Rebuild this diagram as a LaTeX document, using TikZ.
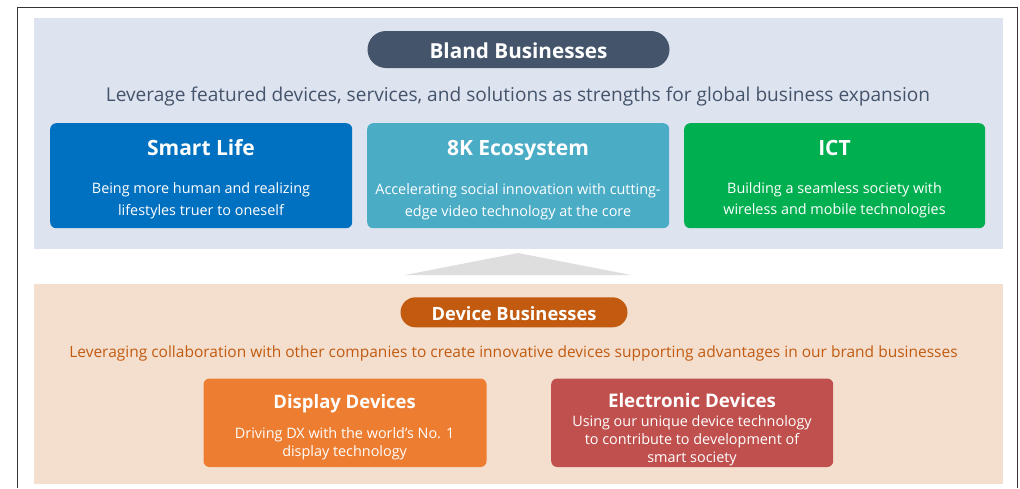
\documentclass[tikz,border=0pt]{standalone}
\usepackage{fontspec}
\setmainfont{Open Sans}
\definecolor{panelblue}{HTML}{DEE3F0}
\definecolor{slate}{HTML}{44546A}
\definecolor{smartblue}{HTML}{0070C0}
\definecolor{ecoteal}{HTML}{4BACC6}
\definecolor{ictgreen}{HTML}{00B050}
\definecolor{panelpeach}{HTML}{F4DFCE}
\definecolor{rust}{HTML}{C25A10}
\definecolor{dispor}{HTML}{ED7D31}
\definecolor{elecred}{HTML}{C0504D}
\definecolor{arrowgray}{HTML}{DEDEDE}
\definecolor{framegray}{HTML}{333333}
\begin{document}
\begin{tikzpicture}[x=1pt,y=-1pt,
  panel/.style={anchor=north west, inner sep=0pt, draw=none},
  card/.style={anchor=north west, inner sep=0pt, rounded corners=6pt, draw=none},
  pill/.style={inner sep=0pt, draw=none},
  pilltext/.style={anchor=base, inner sep=0pt, text=white, font=\fontsize{20.7}{24}\selectfont\bfseries},
  cardtitle/.style={anchor=base, text=white, inner sep=0pt, font=\fontsize{21}{25}\selectfont\bfseries},
  descline/.style={anchor=base, text=white, inner sep=0pt, font=\fontsize{14.4}{18}\selectfont},
  subtitle/.style={anchor=base, inner sep=0pt, font=\fontsize{19.1}{22}\selectfont}
]
\useasboundingbox (0,0) rectangle (1020,488);
\fill[white] (0,0) rectangle (1020,488);
% frame
\draw[framegray, line width=1pt] (17,488) -- (17,7) -- (1017,7) -- (1017,488);
% upper panel
\node[panel, fill=panelblue, minimum width=969pt, minimum height=231pt] (brandpanel) at (34,18) {};
\node[pill, fill=slate, minimum width=302pt, minimum height=37pt, rounded corners=18.5pt] (brand) at (518.5,49.5) {};
\node[pilltext] (brandT) at (518.5,58.3) {Bland Businesses};
\node[subtitle, text=slate] (brandsub) at (518,101.5) {Leverage featured devices, services, and solutions as strengths for global business expansion};
% cards
\node[card, fill=smartblue, minimum width=302pt, minimum height=105pt] (smart) at (50,123) {};
\node[cardtitle] (smartT) at (201,155) {Smart Life};
\node[descline] (smartD1) at (201,193.3) {Being more human and realizing};
\node[descline] (smartD2) at (201,215) {lifestyles truer to oneself};
\node[card, fill=ecoteal, minimum width=302pt, minimum height=105pt] (eco) at (367,123) {};
\node[cardtitle] (ecoT) at (518,155) {8K Ecosystem};
\node[descline] (ecoD1) at (518,194.5) {Accelerating social innovation with cutting-};
\node[descline] (ecoD2) at (518,216) {edge video technology at the core};
\node[card, fill=ictgreen, minimum width=301pt, minimum height=105pt] (ict) at (684,123) {};
\node[cardtitle] (ictT) at (834.5,155) {ICT};
\node[descline] (ictD1) at (834.5,193) {Building a seamless society with};
\node[descline] (ictD2) at (834.5,214.5) {wireless and mobile technologies};
% triangle
\fill[arrowgray] (405,275) -- (518,253) -- (631,275) -- cycle;
% lower panel
\node[panel, fill=panelpeach, minimum width=969pt, minimum height=200pt] (devpanel) at (34,284) {};
\node[pill, fill=rust, minimum width=227pt, minimum height=30pt, rounded corners=15pt] (device) at (514,312.3) {};
\node[pilltext, font=\fontsize{18.3}{22}\selectfont\bfseries] (deviceT) at (514,320) {Device Businesses};
\node[subtitle, text=rust, font=\fontsize{15.5}{20}\selectfont] (devsub) at (513.5,357.5) {Leveraging collaboration with other companies to create innovative devices supporting advantages in our brand businesses};
\node[card, fill=dispor, minimum width=283pt, minimum height=88.5pt] (disp) at (203.3,378.3) {};
\node[cardtitle, font=\fontsize{18.5}{23}\selectfont\bfseries] (dispT) at (344.6,408.3) {Display Devices};
\node[descline] (dispD1) at (344.6,438.3) {Driving DX with the world’s No. 1};
\node[descline] (dispD2) at (344.6,456.7) {display technology};
\node[card, fill=elecred, minimum width=282pt, minimum height=88.5pt] (elec) at (551,378.3) {};
\node[cardtitle, font=\fontsize{18.7}{23}\selectfont\bfseries] (elecT) at (692,407.7) {Electronic Devices};
\node[descline] (elecD1) at (692,426.7) {Using our unique device technology};
\node[descline] (elecD2) at (692,444.5) {to contribute to development of};
\node[descline] (elecD3) at (692,462.5) {smart society};
\end{tikzpicture}
\end{document}
